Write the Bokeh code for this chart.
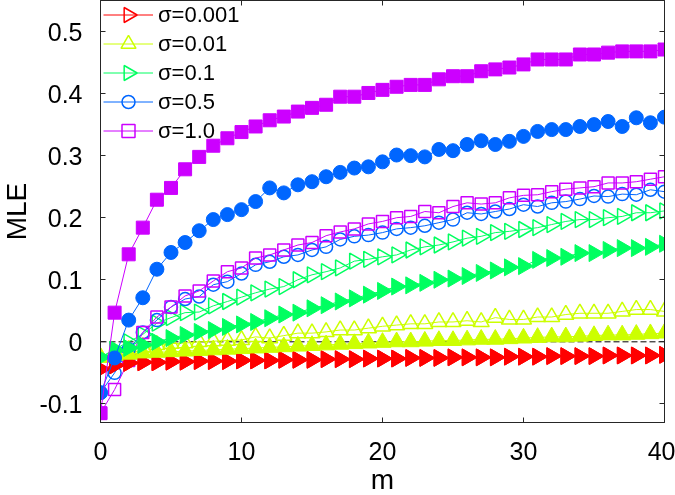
import math
from bokeh.plotting import figure
from bokeh.models import (Range1d, LinearAxis, FixedTicker, CustomJSTickFormatter,
                          Span, Legend, LegendItem, ColumnDataSource)
from bokeh.embed import file_html
from bokeh.resources import INLINE

# ---------------- data ----------------
m = list(range(41))

# hollow markers (legend series)
h_0001 = [-0.044, -0.038, -0.034, -0.033, -0.033, -0.032, -0.032, -0.031, -0.031, -0.031,
          -0.030, -0.030, -0.030, -0.029, -0.029, -0.029, -0.028, -0.028, -0.028, -0.027,
          -0.027, -0.027, -0.026, -0.026, -0.026, -0.025, -0.025, -0.025, -0.025, -0.024,
          -0.024, -0.024, -0.023, -0.023, -0.023, -0.023, -0.022, -0.022, -0.022, -0.022, -0.021]
h_001 = [-0.025, -0.018, -0.013, -0.008, -0.005, -0.003, -0.002, 0.000, 0.001, 0.002,
         0.003, 0.008, 0.006, 0.010, 0.014, 0.014, 0.016, 0.019, 0.019, 0.022,
         0.025, 0.027, 0.029, 0.029, 0.032, 0.032, 0.034, 0.032, 0.039, 0.036,
         0.036, 0.040, 0.040, 0.044, 0.046, 0.046, 0.046, 0.049, 0.052, 0.052, 0.049]
h_01 = [-0.025, -0.012, 0.000, 0.012, 0.030, 0.039, 0.047, 0.048, 0.058, 0.065,
        0.072, 0.079, 0.085, 0.089, 0.100, 0.108, 0.113, 0.119, 0.130, 0.133,
        0.137, 0.140, 0.148, 0.153, 0.156, 0.161, 0.167, 0.170, 0.176, 0.178,
        0.181, 0.184, 0.189, 0.194, 0.197, 0.197, 0.200, 0.202, 0.208, 0.208, 0.211]
h_05 = [-0.082, -0.050, -0.012, 0.015, 0.035, 0.056, 0.069, 0.073, 0.092, 0.097,
        0.110, 0.124, 0.129, 0.137, 0.140, 0.148, 0.153, 0.165, 0.170, 0.172,
        0.176, 0.182, 0.184, 0.187, 0.192, 0.197, 0.208, 0.206, 0.210, 0.214,
        0.221, 0.218, 0.224, 0.226, 0.230, 0.235, 0.234, 0.238, 0.237, 0.245, 0.242]
h_10 = [-0.115, -0.077, -0.030, 0.015, 0.040, 0.056, 0.074, 0.082, 0.098, 0.113,
        0.119, 0.135, 0.140, 0.148, 0.156, 0.160, 0.171, 0.177, 0.182, 0.190,
        0.194, 0.200, 0.202, 0.210, 0.208, 0.218, 0.224, 0.222, 0.224, 0.232,
        0.236, 0.237, 0.242, 0.246, 0.248, 0.250, 0.256, 0.256, 0.258, 0.262, 0.266]

# filled markers
f_0001 = [-0.044, -0.038, -0.034, -0.033, -0.033, -0.032, -0.032, -0.031, -0.031, -0.031,
          -0.030, -0.030, -0.030, -0.029, -0.029, -0.029, -0.028, -0.028, -0.028, -0.027,
          -0.027, -0.027, -0.026, -0.026, -0.026, -0.025, -0.025, -0.025, -0.025, -0.024,
          -0.024, -0.024, -0.023, -0.023, -0.023, -0.023, -0.022, -0.022, -0.022, -0.022, -0.021]
f_001 = [-0.025, -0.022, -0.020, -0.018, -0.017, -0.016, -0.015, -0.014, -0.013, -0.012,
         -0.011, -0.010, -0.009, -0.008, -0.007, -0.006, -0.005, -0.004, -0.003, -0.002,
         -0.001, 0.000, 0.000, 0.001, 0.002, 0.002, 0.003, 0.004, 0.004, 0.005,
         0.006, 0.007, 0.008, 0.008, 0.009, 0.010, 0.011, 0.011, 0.012, 0.013, 0.014]
f_01 = [-0.025, -0.014, -0.010, -0.005, 0.000, 0.006, 0.011, 0.016, 0.019, 0.024,
        0.028, 0.032, 0.038, 0.044, 0.047, 0.054, 0.059, 0.065, 0.070, 0.076,
        0.082, 0.089, 0.091, 0.095, 0.100, 0.102, 0.106, 0.111, 0.115, 0.120,
        0.122, 0.132, 0.135, 0.137, 0.143, 0.143, 0.148, 0.151, 0.151, 0.153, 0.158]
f_05 = [-0.082, -0.026, 0.035, 0.071, 0.117, 0.144, 0.160, 0.179, 0.197, 0.205,
        0.213, 0.226, 0.248, 0.240, 0.253, 0.258, 0.266, 0.273, 0.280, 0.282,
        0.290, 0.301, 0.300, 0.298, 0.310, 0.308, 0.318, 0.324, 0.318, 0.323,
        0.331, 0.339, 0.342, 0.342, 0.347, 0.350, 0.355, 0.347, 0.361, 0.353, 0.362]
f_10 = [-0.115, 0.047, 0.141, 0.184, 0.229, 0.248, 0.278, 0.298, 0.316, 0.328,
        0.338, 0.347, 0.357, 0.363, 0.371, 0.377, 0.382, 0.395, 0.395, 0.401,
        0.406, 0.411, 0.414, 0.414, 0.423, 0.428, 0.428, 0.436, 0.439, 0.442,
        0.447, 0.455, 0.455, 0.455, 0.463, 0.463, 0.466, 0.468, 0.468, 0.468, 0.471]

labels = ["σ=0.001", "σ=0.01", "σ=0.1", "σ=0.5", "σ=1.0"]
colors = ["#FF0000", "#CCFF00", "#00FF60", "#0066FF", "#CC00FF"]
x_ticks = [0, 10, 20, 30, 40]
y_ticks = [-0.1, 0.0, 0.1, 0.2, 0.3, 0.4, 0.5]

# ---------------- layout constants (screen px) ----------------
SHIFT = 8                      # canvas is pulled 8px to the left
FW, FH = 564, 422
BL, BR, BT, BB = 100 + SHIFT, 11, 0, 90
W, H = BL + FW + BR, BT + FH + BB
X0, X1 = 0, 40
Y0, Y1 = -0.13, 0.55

FONT = "Liberation Sans"
AX = "#262626"
p = figure(width=W, height=H, output_backend="svg", toolbar_location=None,
           x_range=Range1d(X0, X1), y_range=Range1d(Y0, Y1),
           min_border_left=BL, min_border_right=BR, min_border_top=BT,
           min_border_bottom=BB)
p.styles = {"position": "fixed", "top": "0px", "left": f"-{SHIFT}px"}
p.xgrid.visible = False
p.ygrid.visible = False
p.outline_line_color = AX
p.outline_line_width = 1
p.background_fill_color = "white"
p.border_fill_color = "white"

yfmt = CustomJSTickFormatter(code="return Math.abs(tick) < 1e-9 ? '0' : tick.toFixed(1);")


def style_axis(ax, show_labels):
    ax.major_tick_in = 5
    ax.major_tick_out = 0
    ax.minor_tick_line_color = None
    ax.axis_line_color = AX
    ax.major_tick_line_color = AX
    if show_labels:
        ax.major_label_text_font = FONT
        ax.major_label_text_font_size = "25px"
        ax.major_label_text_color = "black"
        ax.axis_label_text_font = FONT
        ax.axis_label_text_font_size = "28px"
        ax.axis_label_text_font_style = "normal"
        ax.axis_label_text_color = "black"
    else:
        ax.major_label_text_font_size = "0px"
        ax.major_label_text_color = None
        ax.major_label_standoff = 0


p.xaxis.ticker = FixedTicker(ticks=x_ticks)
p.yaxis.ticker = FixedTicker(ticks=y_ticks)
p.yaxis.formatter = yfmt
style_axis(p.xaxis[0], True)
style_axis(p.yaxis[0], True)
p.xaxis.major_label_standoff = 19
p.yaxis.major_label_standoff = 18
p.xaxis.axis_label = "m"
p.xaxis.axis_label_standoff = 1
p.yaxis.axis_label = "MLE"
p.yaxis.axis_label_standoff = 4

top_ax = LinearAxis(ticker=FixedTicker(ticks=x_ticks))
style_axis(top_ax, False)
p.add_layout(top_ax, "above")
right_ax = LinearAxis(ticker=FixedTicker(ticks=y_ticks))
style_axis(right_ax, False)
p.add_layout(right_ax, "right")

# zero dashed line
p.add_layout(Span(location=0, dimension="width", line_color="black",
                  line_dash="6 3", line_width=1, level="underlay"))

TRI_R = -math.pi / 2
hollow = [
    (h_0001, "triangle", 16, TRI_R),
    (h_001, "triangle", 16, 0.0),
    (h_01, "triangle", 16, TRI_R),
    (h_05, "circle", 13, 0.0),
    (h_10, "square", 12, 0.0),
]
filled = [
    (f_0001, "triangle", 17, TRI_R),
    (f_001, "triangle", 17, 0.0),
    (f_01, "triangle", 17, TRI_R),
    (f_05, "circle", 14, 0.0),
    (f_10, "square", 13, 0.0),
]

items = []
for (vals, marker, size, ang), col, lab in zip(hollow, colors, labels):
    src = ColumnDataSource(dict(m=m, v=vals))
    ln = p.line("m", "v", source=src, line_color=col, line_width=1)
    p.scatter("m", "v", source=src, marker=marker, size=size, angle=ang,
              line_color=col, fill_alpha=0, line_width=1.5)
    items.append(LegendItem(label=lab, renderers=[ln]))

for (vals, marker, size, ang), col in zip(filled, colors):
    src = ColumnDataSource(dict(m=m, v=vals))
    p.line("m", "v", source=src, line_color=col, line_width=1)
    p.scatter("m", "v", source=src, marker=marker, size=size, angle=ang,
              line_color=col, fill_color=col, line_width=1)

# legend (lines + labels); its markers are placed at the legend glyph centres
LEG_X, LEG_ROW, LEG_TOP = 3, 29, 0
GLYPH_W = 50
legend = Legend(items=items, location=(LEG_X, FH - LEG_TOP - LEG_ROW * len(items)),
                orientation="vertical",
                glyph_width=GLYPH_W, glyph_height=LEG_ROW, label_height=LEG_ROW,
                spacing=0, padding=0, margin=0, label_standoff=5,
                label_text_font=FONT, label_text_font_size="22px",
                label_text_color="black",
                background_fill_alpha=0, border_line_alpha=0)
p.add_layout(legend, "center")

leg_sx = LEG_X + GLYPH_W / 2
leg_marker_sizes = [15, 15, 15, 13, 13]
for i, ((vals, marker, size, ang), col) in enumerate(zip(hollow, colors)):
    sy = LEG_TOP + LEG_ROW * (i + 0.5)
    lx = X0 + leg_sx * (X1 - X0) / FW
    ly = Y1 - sy * (Y1 - Y0) / FH
    p.scatter([lx], [ly], marker=marker, size=leg_marker_sizes[i], angle=ang,
              line_color=col, fill_alpha=0, line_width=1.5)

open("out.html", "w").write(file_html(p, INLINE))
